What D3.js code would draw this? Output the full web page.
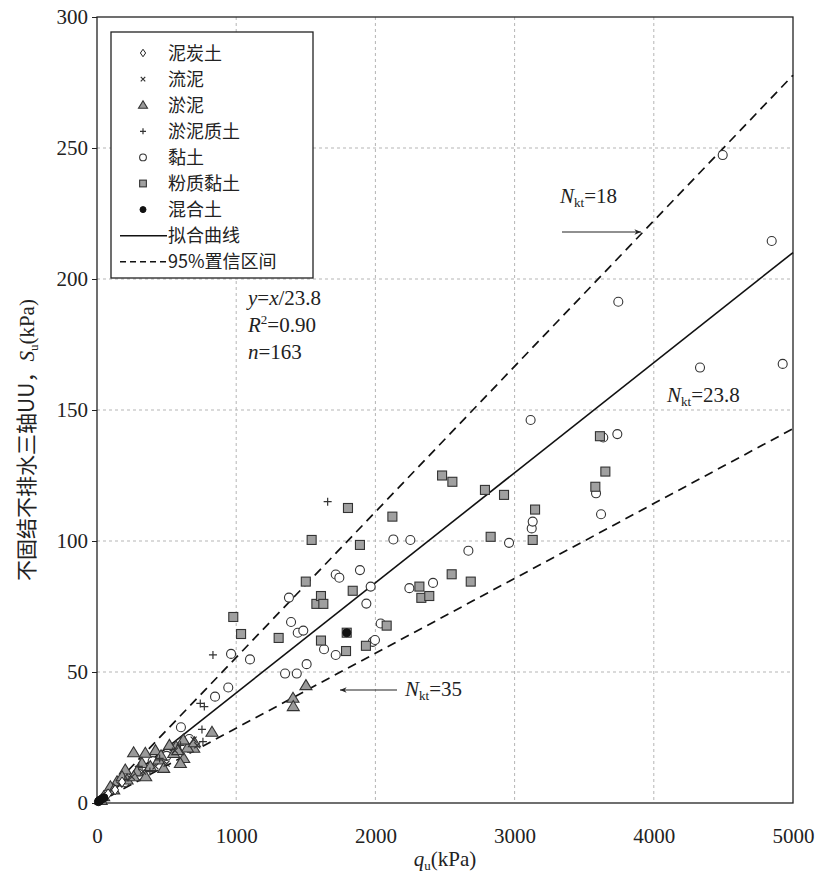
<!DOCTYPE html>
<html><head><meta charset="utf-8">
<script src="https://cdn.jsdelivr.net/npm/d3@7"></script>
<style>
body{margin:0;background:#fff;}
svg{display:block;}
</style></head>
<body>
<svg id="chart" width="827" height="877"></svg>
<script>
// ---------- data ----------
const xTicks = [0,1000,2000,3000,4000,5000];
const yTicks = [0,50,100,150,200,250,300];
const legendLabels = ["泥炭土","流泥","淤泥","淤泥质土","黏土","粉质黏土","混合土","拟合曲线","95%置信区间"];
const fitNkt = 23.8, upperNkt = 18, lowerNkt = 35;

const peat = [[40,2],[80,3.5],[130,5],[180,8]];
const flowMud = [[694,24.2],[720,22],[560,20],[500,15],[420,14],[330,12],[250,10],[160,7],[90,4],[60,2]];
const mud = [[1408,40],[1410,36.8],[1501,44.8],[826,27],[263,19.2],[347,19],[568,21.5],[695,20.9],[623,17],[323,15.1],[443,16.4],[479,13.2],[287,11.9],[203,12.6],[216,8.8],[144,8.1],[96,6.2],[48,2.4],[383,13.9],[551,18.9],[599,15.1],[263,10],[420,20],[520,22],[650,21],[700,23],[180,10],[120,5],[30,1],[350,10],[460,18],[580,20],[620,24]];
const mudSoil = [[1657,115],[833,56.5],[742,38],[771,36.8],[754,28.1],[761,23.4],[300,14],[450,17],[200,9],[600,22],[120,5],[380,12]];
const clay = [[848,40.6],[943,44.1],[963,56.9],[1099,54.8],[1351,49.4],[1435,49.4],[1379,78.4],[1394,69.1],[1442,65],[1482,65.8],[1506,53],[1631,58.7],[1715,56.5],[1715,87.2],[1741,86],[1889,88.9],[1966,82.6],[1935,76.1],[1981,61.5],[1997,62.2],[2038,68.5],[2129,100.6],[2244,82],[2251,100.4],[2414,84],[2668,96.3],[2960,99.3],[3115,146.2],[3123,104.8],[3130,107.4],[3585,118.2],[3621,110.2],[3637,139.5],[3738,140.8],[3745,191.3],[4332,166.2],[4495,247.3],[4847,214.5],[4926,167.6],[603,28.9],[663,24.4],[400,16],[300,12],[200,8],[500,18]];
const siltyClay = [[979,71],[1035,64.5],[1305,63],[1500,84.5],[1542,100.4],[1576,76],[1609,79],[1626,76],[1609,62],[1789,58],[1794,65],[1803,112.6],[1837,81],[1889,98.5],[1932,60],[2081,67.7],[2122,109.3],[2316,82.6],[2330,78.3],[2387,79],[2479,125],[2548,87.3],[2553,122.6],[2685,84.5],[2787,119.5],[2828,101.6],[2924,117.6],[3130,100.4],[3147,112],[3580,120.7],[3613,140],[3652,126.5]];
const mixed = [[1794,65],[10,0.5],[15,0.8],[25,1.2],[35,1.5],[50,2]];

// ---------- layout ----------
const svg = d3.select("#chart");
const L=97, R=793, T=17, B=803;
const x = d3.scaleLinear().domain([0,5000]).range([L,R]);
const y = d3.scaleLinear().domain([0,300]).range([B,T]);
const serif = "'Liberation Serif','Times New Roman',serif";
const cjk = "'Noto Sans CJK SC','Noto Sans',sans-serif";

// grid
const grid = svg.append("g").attr("stroke","#b5b5b5").attr("stroke-width",1).attr("stroke-dasharray","3,3");
xTicks.filter(d=>d>0&&d<5000).forEach(d=>grid.append("line").attr("x1",x(d)).attr("x2",x(d)).attr("y1",T).attr("y2",B));
yTicks.filter(d=>d>0&&d<300).forEach(d=>grid.append("line").attr("x1",L).attr("x2",R).attr("y1",y(d)).attr("y2",y(d)));

// frame
svg.append("rect").attr("x",L).attr("y",T).attr("width",R-L).attr("height",B-T).attr("fill","none").attr("stroke","#222").attr("stroke-width",1.3);

// axes
const gx = svg.append("g").attr("transform",`translate(0,${B})`)
  .call(d3.axisBottom(x).tickValues(xTicks).tickSize(0).tickPadding(25).tickFormat(d3.format("d")));
gx.select(".domain").remove();
gx.selectAll("text").attr("font-family",serif).attr("font-size",21).attr("fill","#222");
const gy = svg.append("g").attr("transform",`translate(${L},0)`)
  .call(d3.axisLeft(y).tickValues(yTicks).tickSize(5).tickPadding(4).tickFormat(d3.format("d")));
gy.select(".domain").remove();
gy.selectAll("text").attr("font-family",serif).attr("font-size",21).attr("fill","#222");
gy.selectAll("line").attr("stroke","#222");

// axis titles
const xt = svg.append("text").attr("x",445).attr("y",866).attr("text-anchor","middle")
  .attr("font-family",serif).attr("font-size",21).attr("fill","#222");
xt.append("tspan").attr("font-style","italic").text("q");
xt.append("tspan").attr("font-size",13).attr("dy",4).text("u");
xt.append("tspan").attr("dy",-4).text("(kPa)");

const yt = svg.append("text").attr("transform","translate(34,440) rotate(-90)").attr("text-anchor","middle")
  .attr("font-size",21).attr("fill","#222");
yt.append("tspan").attr("font-family",cjk).text("不固结不排水三轴UU，");
yt.append("tspan").attr("font-family",serif).attr("font-style","italic").text("S");
yt.append("tspan").attr("font-family",serif).attr("font-size",13).attr("dy",4).text("u");
yt.append("tspan").attr("font-family",serif).attr("dy",-4).text("(kPa)");

// lines
const line = d3.line().x(d=>x(d[0])).y(d=>y(d[1]));
const xs = [0,5000];
svg.append("path").datum(xs.map(v=>[v,v/upperNkt])).attr("d",line).attr("fill","none").attr("stroke","#111").attr("stroke-width",1.7).attr("stroke-dasharray","9,6");
svg.append("path").datum(xs.map(v=>[v,v/lowerNkt])).attr("d",line).attr("fill","none").attr("stroke","#111").attr("stroke-width",1.7).attr("stroke-dasharray","9,6");
svg.append("path").datum(xs.map(v=>[v,v/fitNkt])).attr("d",line).attr("fill","none").attr("stroke","#111").attr("stroke-width",1.6);

// markers
const pts = svg.append("g");
function drawSeries(data, kind, big){
  const s = big?1:0.75;
  data.forEach(d=>{
    const cx=x(d[0]), cy=y(d[1]);
    drawMarker(pts, kind, cx, cy, s);
  });
}
function drawMarker(g, kind, cx, cy, s){
  if(kind==="diamond"){
    g.append("path").attr("d",`M${cx},${cy-5*s}L${cx+3.5*s},${cy}L${cx},${cy+5*s}L${cx-3.5*s},${cy}Z`).attr("fill","#fff").attr("stroke","#222").attr("stroke-width",1);
  } else if(kind==="x"){
    const r=3*s;
    g.append("path").attr("d",`M${cx-r},${cy-r}L${cx+r},${cy+r}M${cx-r},${cy+r}L${cx+r},${cy-r}`).attr("stroke","#333").attr("stroke-width",1.2);
  } else if(kind==="tri"){
    const w=6*s, h=10*s;
    g.append("path").attr("d",`M${cx},${cy-h*0.6}L${cx+w},${cy+h*0.4}L${cx-w},${cy+h*0.4}Z`).attr("fill","#9a9a9a").attr("stroke","#333").attr("stroke-width",1.1);
  } else if(kind==="plus"){
    const r=4*s;
    g.append("path").attr("d",`M${cx-r},${cy}L${cx+r},${cy}M${cx},${cy-r}L${cx},${cy+r}`).attr("stroke","#333").attr("stroke-width",1.2);
  } else if(kind==="circle"){
    g.append("circle").attr("cx",cx).attr("cy",cy).attr("r",4.5*s).attr("fill","#fff").attr("stroke","#333").attr("stroke-width",1.1);
  } else if(kind==="square"){
    const a=9*s;
    g.append("rect").attr("x",cx-a/2).attr("y",cy-a/2).attr("width",a).attr("height",a).attr("fill","#a0a0a0").attr("stroke","#333").attr("stroke-width",1.1);
  } else if(kind==="dot"){
    g.append("circle").attr("cx",cx).attr("cy",cy).attr("r",4*s).attr("fill","#111").attr("stroke","#111");
  }
}
drawSeries(clay,"circle",true);
drawSeries(siltyClay,"square",true);
drawSeries(mud,"tri",true);
drawSeries(mudSoil,"plus",true);
drawSeries(flowMud,"x",true);
drawSeries(peat,"diamond",true);
drawSeries(mixed,"dot",true);

// annotations
function nkt(xp, yp, val){
  const t = svg.append("text").attr("x",xp).attr("y",yp).attr("font-family",serif).attr("font-size",21).attr("fill","#222");
  t.append("tspan").attr("font-style","italic").text("N");
  t.append("tspan").attr("font-size",13).attr("dy",4).text("kt");
  t.append("tspan").attr("dy",-4).text("="+val);
}
nkt(560,203,"18");
nkt(667,402,"23.8");
nkt(405,696,"35");

svg.append("defs").append("marker").attr("id","arr").attr("viewBox","0 0 10 10").attr("refX",10).attr("refY",5)
  .attr("markerWidth",10).attr("markerHeight",6).attr("orient","auto-start-reverse")
  .append("path").attr("d","M0,1L10,5L0,9L3,5Z").attr("fill","#222");
svg.append("line").attr("x1",562).attr("y1",232).attr("x2",641).attr("y2",232).attr("stroke","#222").attr("stroke-width",1.1).attr("marker-end","url(#arr)");
svg.append("line").attr("x1",397).attr("y1",690).attr("x2",340).attr("y2",690).attr("stroke","#222").attr("stroke-width",1.1).attr("marker-end","url(#arr)");

// equation
const eq = svg.append("g").attr("font-family",serif).attr("font-size",21).attr("fill","#222");
const e1 = eq.append("text").attr("x",248).attr("y",305);
e1.append("tspan").attr("font-style","italic").text("y");
e1.append("tspan").text("=");
e1.append("tspan").attr("font-style","italic").text("x");
e1.append("tspan").text("/23.8");
const e2 = eq.append("text").attr("x",248).attr("y",332);
e2.append("tspan").attr("font-style","italic").text("R");
e2.append("tspan").attr("font-size",13).attr("dy",-8).text("2");
e2.append("tspan").attr("dy",8).text("=0.90");
const e3 = eq.append("text").attr("x",248).attr("y",359);
e3.append("tspan").attr("font-style","italic").text("n");
e3.append("tspan").text("=163");

// legend
const lg = svg.append("g");
lg.append("rect").attr("x",111).attr("y",32).attr("width",202).attr("height",246).attr("fill","#fff").attr("stroke","#222").attr("stroke-width",1.3);
const kinds = ["diamond","x","tri","plus","circle","square","dot"];
legendLabels.forEach((lab,i)=>{
  const cy = 53 + i*26.1;
  if(i<7){
    drawMarker(lg, kinds[i], 143, cy, 0.75);
  } else if(i===7){
    lg.append("line").attr("x1",120).attr("x2",167).attr("y1",cy).attr("y2",cy).attr("stroke","#111").attr("stroke-width",1.6);
  } else {
    lg.append("line").attr("x1",120).attr("x2",167).attr("y1",cy).attr("y2",cy).attr("stroke","#111").attr("stroke-width",1.4).attr("stroke-dasharray","6,4");
  }
  lg.append("text").attr("x",168).attr("y",cy+6.5).attr("font-family",cjk).attr("font-size",18).attr("fill","#222").text(lab);
});
</script>
</body></html>
